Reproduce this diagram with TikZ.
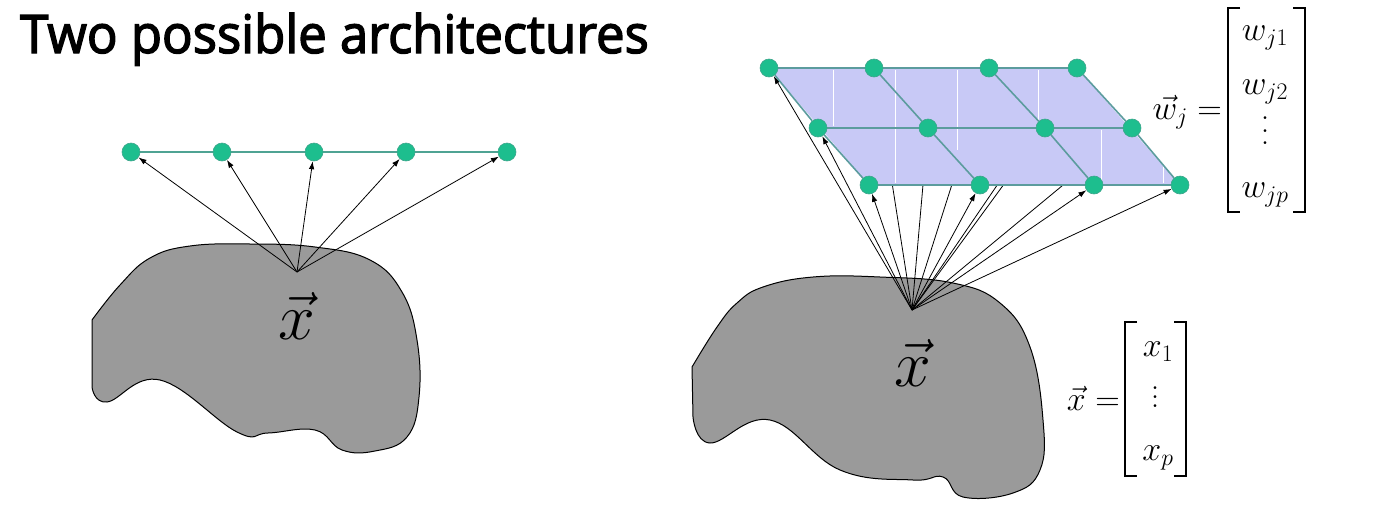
\RequirePackage{fix-cm}
\documentclass[tikz,border=0pt]{standalone}
\usepackage{amsmath,amssymb}
\usepackage{fontspec}
\usepackage{xcolor}
\usepackage{tikz}
\usetikzlibrary{arrows.meta,backgrounds}
\newfontfamily\titlefont{Open Sans}
\definecolor{unitgreen}{HTML}{1DBE8E}
\definecolor{unitedge}{HTML}{3FA58C}
\definecolor{linkteal}{HTML}{4FA393}
\definecolor{gridteal}{HTML}{5C9C9E}
\definecolor{lavender}{HTML}{C8C9F6}
\definecolor{regiongray}{HTML}{9A9A9A}
\newcommand{\stackdots}[1]{\vbox{\baselineskip=#1\lineskiplimit=0pt\hbox{.}\hbox{.}\hbox{.}}}
\newcommand{\heavytext}[1]{\special{pdf:code 2 Tr 1.4 w}#1\special{pdf:code 0 Tr 0.4 w}}
\tikzset{
  unit/.style={circle, fill=unitgreen, draw=unitedge, line width=0.6pt, minimum size=18pt, inner sep=0pt},
  link/.style={draw=linkteal, line width=1.6pt},
  gridedge/.style={draw=gridteal, line width=1.6pt},
  sheen/.style={draw=white, line width=0.8pt},
  feed/.style={draw=black, line width=0.8pt, -{Latex[length=8pt,width=5.5pt]}},
  region/.style={fill=regiongray, draw=black, line width=1pt},
  lab/.style={font=\fontsize{34}{40}\selectfont, inner sep=0pt},
  biglab/.style={font=\fontsize{66}{70}\selectfont, inner sep=0pt},
  brack/.style={draw=black, line width=1.6pt},
}
\begin{document}
\begin{tikzpicture}[x=1pt, y=-1pt]
  \useasboundingbox (0,0) rectangle (1381,525);

  \node[anchor=base west, inner sep=0pt] (title) at (20,53)
    {\titlefont\fontsize{53}{60}\selectfont\scalebox{0.96}[1]{\heavytext{Two possible architectures}}};

  % left: one row of units
  \draw[region] plot[smooth, tension=0.7] coordinates {(92,320) (120,285) (150,258) (190,246)
    (250,244) (315,247) (370,260) (402,292) (417,340) (419,397) (407,437) (375,451)
    (342,450) (315,430) (268,433) (237,432) (160,380) (107,402) (92,387)} -- cycle;
  \coordinate (ol) at (297,272);
  \node[biglab] (xl) at (297,316) {$\vec{x}$};

  \node[unit] (n1) at (131,152) {};
  \node[unit] (n2) at (222,152) {};
  \node[unit] (n3) at (314,152) {};
  \node[unit] (n4) at (406,152) {};
  \node[unit] (n5) at (507,152) {};
  \begin{scope}[on background layer]
    \draw[link] (n1) -- (n2) -- (n3) -- (n4) -- (n5);
  \end{scope}
  \foreach \i in {1,...,5}
    \draw[feed] (ol) -- (n\i);

  % right: sheet of units
  \coordinate (or) at (912,310);
  \node[biglab] (xr) at (913,363) {$\vec{x}$};

  \node[unit] (u11) at (769,68) {};
  \node[unit] (u12) at (874,68) {};
  \node[unit] (u13) at (989,68) {};
  \node[unit] (u14) at (1077,68) {};
  \node[unit] (u21) at (818,128) {};
  \node[unit] (u22) at (928,128) {};
  \node[unit] (u23) at (1045,128) {};
  \node[unit] (u24) at (1132,128) {};
  \node[unit] (u31) at (869,185) {};
  \node[unit] (u32) at (980,185) {};
  \node[unit] (u33) at (1094,185) {};
  \node[unit] (u34) at (1180,185) {};

  \begin{scope}[on background layer]
    \draw[region] plot[smooth, tension=0.7] coordinates {(692,367) (717,327) (737,303) (763,287)
      (813,277) (880,277) (953,283) (1000,303) (1030,347) (1043,420) (1040,470) (1013,493)
      (963,497) (943,477) (913,480) (840,470) (770,420) (710,443) (693,417)} -- cycle;
    \foreach \r in {1,2,3}
      \foreach \c in {1,...,4}
        \draw[feed] (or) -- (u\r\c);
    \fill[lavender] (u11.center) -- (u14.center) -- (u34.center) -- (u31.center) -- cycle;
    \draw[sheen] (833,70) -- (833,126);
    \draw[sheen] (895,70) -- (895,183);
    \draw[sheen] (957,70) -- (957,150);
    \draw[sheen] (1038,70) -- (1038,126);
    \draw[sheen] (1101,130) -- (1101,183);
    \draw[sheen] (1163,150) -- (1163,183);
    \draw[gridedge] (u11) -- (u12) -- (u13) -- (u14);
    \draw[gridedge] (u21) -- (u22) -- (u23) -- (u24);
    \draw[gridedge] (u31) -- (u32) -- (u33) -- (u34);
    \draw[gridedge] (u11) -- (u21) -- (u31);
    \draw[gridedge] (u12) -- (u22) -- (u32);
    \draw[gridedge] (u13) -- (u23) -- (u33);
    \draw[gridedge] (u14) -- (u24) -- (u34);
  \end{scope}

  % weight vector
  \node[lab, anchor=east] (wv) at (1222,112) {$\vec{w}_j =$};
  \node[lab] (w1) at (1265,38) {$w_{j1}$};
  \node[lab] (w2) at (1265,92) {$w_{j2}$};
  \node[lab] (wd) at (1265,131) {\stackdots{12.5pt}};
  \node[lab] (wp) at (1265,195) {$w_{jp}$};
  \draw[brack] (1240,8) -- (1228,8) -- (1228,212) -- (1240,212);
  \draw[brack] (1293,8) -- (1305,8) -- (1305,212) -- (1293,212);

  % input vector
  \node[lab, anchor=east] (xv) at (1120,398) {$\vec{x} =$};
  \node[lab] (x1) at (1158,352) {$x_1$};
  \node[lab] (xd) at (1155,397) {\stackdots{9pt}};
  \node[lab] (xp) at (1158,458) {$x_p$};
  \draw[brack] (1137,322) -- (1125,322) -- (1125,476) -- (1137,476);
  \draw[brack] (1174,322) -- (1186,322) -- (1186,476) -- (1174,476);
\end{tikzpicture}
\end{document}
